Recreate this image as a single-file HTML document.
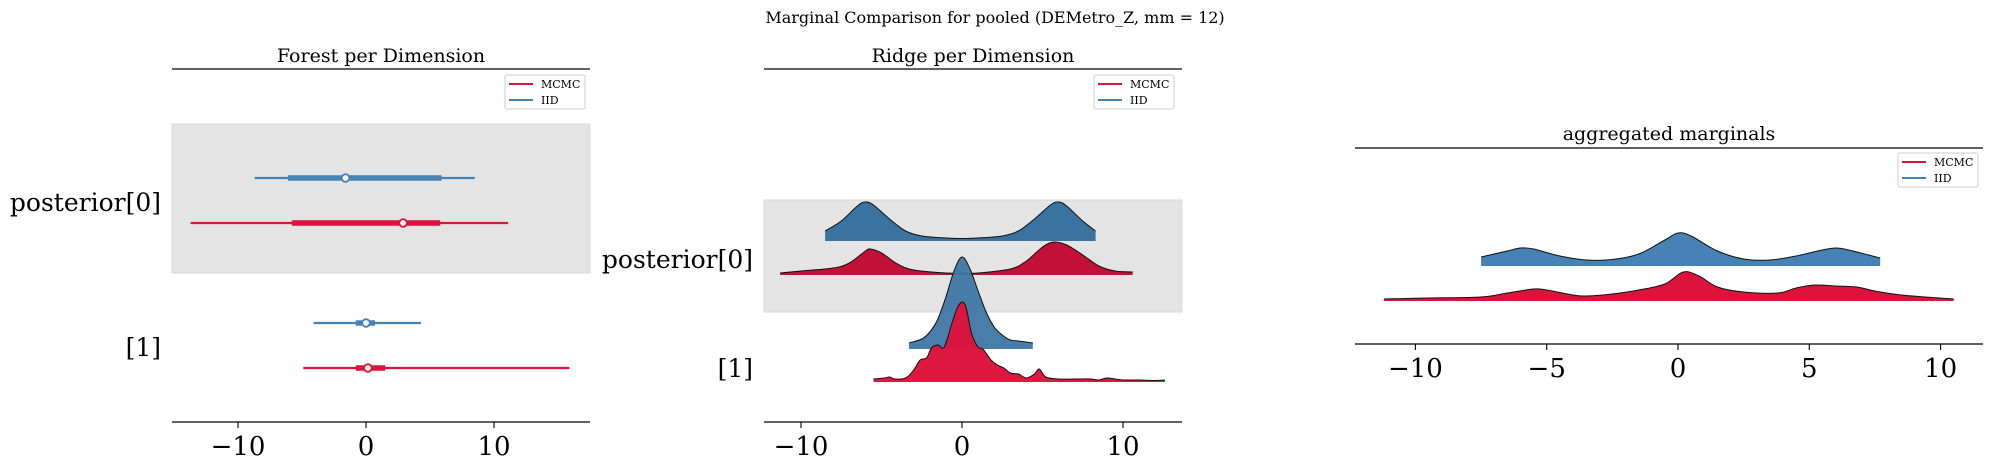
<!DOCTYPE html>
<html><head><meta charset="utf-8"><style>
html,body{margin:0;padding:0;background:#fff;}
svg{display:block;font-family:"DejaVu Serif","Liberation Serif",serif;}
</style></head><body>
<svg id="fig" width="1990" height="465" viewBox="0 0 1990 465" xmlns="http://www.w3.org/2000/svg">
<text x="995" y="23" text-anchor="middle" font-size="16">Marginal Comparison for pooled (DEMetro_Z, mm = 12)</text>
</svg>
<script>
// ---- Forest data (per dimension) ----
const forestRows = ["posterior[0]", "[1]"];
const forestIIDLow  = [-8.7, -4.1];
const forestIIDHigh = [8.5, 4.3];
const forestIIDQ1   = [-6.1, -0.8];
const forestIIDQ3   = [5.9, 0.7];
const forestIIDMed  = [-1.6, 0.0];
const forestMCMCLow  = [-13.7, -4.9];
const forestMCMCHigh = [11.1, 15.9];
const forestMCMCQ1   = [-5.8, -0.8];
const forestMCMCQ3   = [5.8, 1.5];
const forestMCMCMed  = [2.9, 0.15];
const forestTicks = [-10, 0, 10];

// ---- Ridge data ----
const ridgeTicks = [-10, 0, 10];
const ridge0IIDx = [-8.5,-7.5,-6.5,-6,-5.5,-4.5,-3.5,-2.5,-1,0,1,2.5,3.5,4.5,5.5,6,6.5,7.5,8.3];
const ridge0IIDy = [0.10,0.20,0.35,0.39,0.36,0.22,0.10,0.05,0.03,0.025,0.03,0.05,0.10,0.22,0.36,0.39,0.35,0.20,0.10];
const ridge0MCMCx = [-11.3,-10,-8,-7,-6,-5.7,-5,-4,-3,-1,0,1,3,4,5,5.7,6.5,7.5,8.5,9.5,10.6];
const ridge0MCMCy = [0.02,0.04,0.07,0.12,0.24,0.26,0.22,0.11,0.05,0.02,0.02,0.02,0.06,0.14,0.28,0.33,0.30,0.20,0.09,0.04,0.03];
const ridge1IIDx = [-3.3,-2.5,-2,-1.5,-1,-0.5,0,0.5,1,1.5,2,2.5,3,3.5,4.4];
const ridge1IIDy = [0.06,0.10,0.17,0.30,0.52,0.78,0.92,0.80,0.58,0.37,0.22,0.14,0.09,0.08,0.06];
const ridge1MCMCx = [-5.5,-4.8,-4.5,-4.2,-3.5,-3,-2.6,-2.2,-1.9,-1.5,-1.1,-0.6,-0.2,0.2,0.6,1,1.3,1.8,2.2,2.6,3,3.5,4,4.5,4.8,5.2,6,7,8,8.5,9,9.5,10,11,12,12.6];
const ridge1MCMCy = [0.03,0.04,0.05,0.03,0.04,0.12,0.22,0.24,0.34,0.37,0.35,0.60,0.77,0.77,0.48,0.35,0.33,0.22,0.17,0.14,0.09,0.08,0.04,0.08,0.13,0.05,0.03,0.03,0.03,0.02,0.04,0.03,0.02,0.02,0.015,0.02];

// ---- Aggregated data ----
const aggTicks = [-10, -5, 0, 5, 10];
const aggIIDx = [-7.5,-6.5,-6,-5.5,-4.5,-3.5,-2.5,-1.5,-0.5,0,0.5,1.5,2.5,3.5,4.5,5.5,6,6.5,7.7];
const aggIIDy = [0.09,0.15,0.18,0.17,0.10,0.06,0.065,0.12,0.26,0.33,0.30,0.15,0.07,0.06,0.10,0.16,0.18,0.16,0.08];
const aggMCMCx = [-11.2,-9.5,-7.5,-6.5,-5.5,-5,-4,-3.5,-2.5,-1.5,-0.5,0.2,0.8,1.5,2.5,3.8,4.5,5.2,6,6.8,7.5,8.5,10.5];
const aggMCMCy = [0.02,0.03,0.04,0.08,0.12,0.11,0.06,0.05,0.07,0.11,0.17,0.29,0.25,0.14,0.09,0.08,0.13,0.16,0.15,0.14,0.10,0.06,0.02];

const NS = "http://www.w3.org/2000/svg";
const svg = document.getElementById("fig");
const RED = "#dc143c", BLUE = "#4682b4";
function mk(tag, attrs, parent) {
  const e = document.createElementNS(NS, tag);
  for (const k in attrs) e.setAttribute(k, attrs[k]);
  (parent || svg).appendChild(e);
  return e;
}
function linScale(v0, p0, v1, p1) { return v => p0 + (v - v0) * (p1 - p0) / (v1 - v0); }

function smoothPath(pts) {
  let d = "M" + pts[0][0].toFixed(1) + "," + pts[0][1].toFixed(1);
  for (let i = 0; i < pts.length - 1; i++) {
    const p0 = pts[Math.max(i - 1, 0)], p1 = pts[i], p2 = pts[i + 1], p3 = pts[Math.min(i + 2, pts.length - 1)];
    const c1x = p1[0] + (p2[0] - p0[0]) / 6, c1y = p1[1] + (p2[1] - p0[1]) / 6;
    const c2x = p2[0] - (p3[0] - p1[0]) / 6, c2y = p2[1] - (p3[1] - p1[1]) / 6;
    d += " C" + c1x.toFixed(1) + "," + c1y.toFixed(1) + " " + c2x.toFixed(1) + "," + c2y.toFixed(1) + " " + p2[0].toFixed(1) + "," + p2[1].toFixed(1);
  }
  return d;
}

function axesFrame(x0, x1, topY, botY, title, titleY, ticks, sx, prefix) {
  const t = mk("text", {x: (x0 + x1) / 2, y: titleY, "text-anchor": "middle", "font-size": 19});
  t.textContent = title;
  
  
  const top = mk("line", {x1: x0, x2: x1, y1: topY, y2: topY, stroke: "#000", "stroke-width": 1.3});
  
  
  const bot = mk("line", {x1: x0, x2: x1, y1: botY, y2: botY, stroke: "#000", "stroke-width": 1.3});
  
  
  ticks.forEach(v => {
    const x = sx(v);
    const tk = mk("line", {x1: x, x2: x, y1: botY, y2: botY + 6, stroke: "#000", "stroke-width": 1.1});
    
    
    const lb = mk("text", {x: x, y: botY + 33, "text-anchor": "middle", "font-size": 26});
    lb.textContent = v < 0 ? "\u2212" + Math.abs(v) : String(v);
    
    
  });
}

function legend(x, y, prefix) {
  const g = mk("g", {});
  
  
  mk("rect", {x: x, y: y, width: 80, height: 34, rx: 2, fill: "#fff", stroke: "#ccc", "stroke-width": 1}, g);
  [["MCMC", RED], ["IID", BLUE]].forEach((e, i) => {
    const yy = y + 9 + i * 16;
    const ent = mk("g", {}, g);
    
    
    mk("line", {x1: x + 4, x2: x + 28, y1: yy, y2: yy, stroke: e[1], "stroke-width": 2}, ent);
    const t = mk("text", {x: x + 36, y: yy + 4, "font-size": 11}, ent);
    t.textContent = e[0];
  });
}

function yLabel(text, xRight, y, name) {
  const t = mk("text", {x: xRight, y: y + 9, "text-anchor": "end", "font-size": 25});
  t.textContent = text;
  
  
}

// ===== Panel 1: forest =====
(function () {
  const x0 = 172, x1 = 590;
  const sx = linScale(0, 366, 10, 494);
  const band = mk("rect", {x: x0, y: 124, width: x1 - x0, height: 149, fill: "#e4e4e4", stroke: "#d8d8d8"});
  
  
  axesFrame(x0, x1, 69, 422, "Forest per Dimension", 62, forestTicks, sx, "forest");
  legend(505, 75, "forest");
  const rowIID = [178, 323], rowMCMC = [223, 368], rowLab = [202, 347];
  forestRows.forEach((r, i) => {
    yLabel(r, 161, rowLab[i], "forest-y-label-" + i);
    [[rowIID[i], BLUE, forestIIDLow, forestIIDHigh, forestIIDQ1, forestIIDQ3, forestIIDMed, "iid"],
     [rowMCMC[i], RED, forestMCMCLow, forestMCMCHigh, forestMCMCQ1, forestMCMCQ3, forestMCMCMed, "mcmc"]].forEach(s => {
      const y = s[0], c = s[1];
      const g = mk("g", {});
      
      
      mk("line", {x1: sx(s[2][i]), x2: sx(s[3][i]), y1: y, y2: y, stroke: c, "stroke-width": 2.2}, g);
      mk("line", {x1: sx(s[4][i]), x2: sx(s[5][i]), y1: y, y2: y, stroke: c, "stroke-width": 5.5}, g);
      mk("circle", {cx: sx(s[6][i]), cy: y, r: 3.8, fill: "#fff", stroke: c, "stroke-width": 1.8}, g);
    });
  });
})();

function ridge(xs, ys, sx, base, k, fill, opacity, name) {
  const pts = xs.map((v, i) => [sx(v), base - ys[i] * k]);
  let d = smoothPath(pts);
  const fillD = d + " L" + sx(xs[xs.length - 1]).toFixed(1) + "," + base + " L" + sx(xs[0]).toFixed(1) + "," + base + " Z";
  const g = mk("g", {});
  
  
  mk("path", {d: fillD, fill: fill, "fill-opacity": opacity, stroke: "none"}, g);
  mk("path", {d: d, fill: "none", stroke: "#111", "stroke-width": 1}, g);
}

// ===== Panel 2: ridge =====
(function () {
  const x0 = 764, x1 = 1182;
  const sx = linScale(0, 962, 10, 1123);
  const band = mk("rect", {x: x0, y: 200, width: x1 - x0, height: 112, fill: "#e4e4e4", stroke: "#d8d8d8"});
  
  
  axesFrame(x0, x1, 69, 422, "Ridge per Dimension", 62, ridgeTicks, sx, "ridge");
  legend(1094, 75, "ridge");
  yLabel("posterior[0]", 753, 259, "ridge-y-label-0");
  yLabel("[1]", 753, 368, "ridge-y-label-1");
  ridge(ridge0IIDx, ridge0IIDy, sx, 241, 100, "#3b73a0", 1, "ridge-iid-0");
  ridge(ridge0MCMCx, ridge0MCMCy, sx, 275, 100, "#c31036", 1, "ridge-mcmc-0");
  ridge(ridge1IIDx, ridge1IIDy, sx, 349, 100, "#3f77a6", 0.95, "ridge-iid-1");
  ridge(ridge1MCMCx, ridge1MCMCy, sx, 382, 100, RED, 0.98, "ridge-mcmc-1");
})();

// ===== Panel 3: aggregated =====
(function () {
  const x0 = 1355, x1 = 1983;
  const sx = linScale(0, 1678, 10, 1940.6);
  axesFrame(x0, x1, 148, 344, "aggregated marginals", 140, aggTicks, sx, "aggregated");
  legend(1898, 153, "aggregated");
  ridge(aggIIDx, aggIIDy, sx, 266, 100, BLUE, 1, "aggregated-iid-density");
  ridge(aggMCMCx, aggMCMCy, sx, 301, 100, RED, 1, "aggregated-mcmc-density");
})();
</script>
</body></html>
